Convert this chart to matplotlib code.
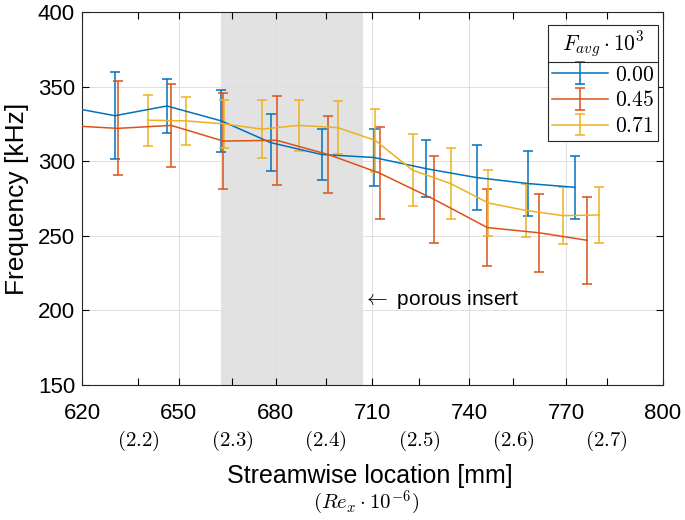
import numpy as np
import matplotlib
matplotlib.use("Agg")
import matplotlib.pyplot as plt
from matplotlib.lines import Line2D

plt.rcParams['font.family'] = ['Liberation Sans', 'DejaVu Sans']
plt.rcParams['mathtext.fontset'] = 'cm'

# measured frequencies [kHz] and errorbar half-widths per blowing ratio
x_000 = [614, 630.2, 646.3, 663.2, 678.4, 694.2, 710.4, 726.6, 742.3, 758.3, 772.7]
f_000 = [337, 330.5, 337, 327, 312.5, 304.5, 302.5, 295, 289, 285, 282.5]
e_000 = [20, 29, 18, 21, 19, 17, 19, 19, 22, 22, 21]

x_045 = [614.8, 631, 647.6, 663.8, 680.3, 696.3, 712.2, 729, 745.6, 761.7, 776.5]
f_045 = [324, 322, 324, 313.5, 314, 304.5, 292, 274.5, 255.5, 252, 247]
e_045 = [30, 31.5, 28, 32, 30, 26, 31, 29, 26, 26, 29]

x_071 = [640.5, 652.2, 664.1, 675.7, 687.2, 699.2, 710.8, 722.4, 734.2, 745.9, 757.5, 769.1, 780.3]
f_071 = [327.5, 327, 325, 321.5, 324, 322.5, 314, 294, 285, 272, 267, 263.5, 264]
e_071 = [17, 16, 16, 19.5, 17, 18, 21, 24, 24, 22, 17.5, 19, 19]

labels = ['0.00', '0.45', '0.71']
colors = ['#0072BD', '#D95319', '#EDB120']

# Reynolds number axis (x 10^-6) and its positions in mm
re_vals = ['2.2', '2.3', '2.4', '2.5', '2.6', '2.7']
re_pos = [637.5, 666.5, 695.5, 724.5, 753.5, 782.5]

insert_start, insert_end = 663, 707

fig = plt.figure(figsize=(6.85, 5.2), dpi=100)
ax = fig.add_axes([82 / 685, 1 - 385 / 520, (663 - 82) / 685, (385 - 12) / 520])

ax.axvspan(insert_start, insert_end, color='#e2e2e2', zorder=0.3, lw=0)

series = [(x_000, f_000, e_000), (x_045, f_045, e_045), (x_071, f_071, e_071)]
for (x, f, e), c, lab in zip(series, colors, labels):
    ax.errorbar(x, f, yerr=e, color=c, lw=1.1, elinewidth=1.1, capsize=3.6,
                capthick=1.1, label='$' + lab + '$', zorder=3)

ax.set_xlim(620, 800)
ax.set_ylim(150, 400)
ax.set_xticks(np.arange(620, 801, 30))
ax.set_yticks(np.arange(150, 401, 50))
ax.set_xticks(re_pos, minor=True)
ax.set_axisbelow(True)
ax.grid(True, color='0.87', lw=0.7)
ax.tick_params(which='both', direction='in', top=True, right=True, length=5,
               labelsize=16, width=0.8)
ax.tick_params(axis='x', pad=13)
ax.tick_params(axis='y', pad=5)
for s in ax.spines.values():
    s.set_linewidth(0.8)
    s.set_color('0.15')

for r, p in zip(re_vals, re_pos):
    ax.text(p, -0.15, '$(' + r + ')$', transform=ax.get_xaxis_transform(),
            ha='center', va='center', fontsize=15)

fig.text(370 / 685, 1 - 476 / 520, 'Streamwise location [mm]', ha='center',
         va='center', fontsize=18)
fig.text(366 / 685, 1 - 503 / 520, r'$(Re_x\cdot 10^{-6})$', ha='center',
         va='center', fontsize=15)
ax.set_ylabel('Frequency [kHz]', fontsize=19, labelpad=6)

ax.text(insert_end, 207, r'$\leftarrow$ porous insert', ha='left', va='center',
        fontsize=15)

leg = ax.legend(loc='upper right', bbox_to_anchor=(0.992, 0.965),
                title=r'$F_{avg}\cdot 10^3$', fontsize=15.5, title_fontsize=15.5,
                fancybox=False, framealpha=1, edgecolor='0.15',
                borderaxespad=0, handlelength=2.6, handletextpad=0.3,
                borderpad=0.2, labelspacing=0.22)
leg.get_frame().set_linewidth(0.8)

# separator line under the legend title
fig.canvas.draw()
rend = fig.canvas.get_renderer()
fb = leg.get_frame().get_window_extent(rend)
tb = leg.get_title().get_window_extent(rend)
yline = tb.y0 - 2
inv = fig.transFigure.inverted()
p0 = inv.transform((fb.x0, yline))
p1 = inv.transform((fb.x1, yline))
fig.add_artist(Line2D([p0[0], p1[0]], [p0[1], p1[1]], color='0.15', lw=0.8,
                      transform=fig.transFigure))

fig.savefig('out.png', dpi=100)
